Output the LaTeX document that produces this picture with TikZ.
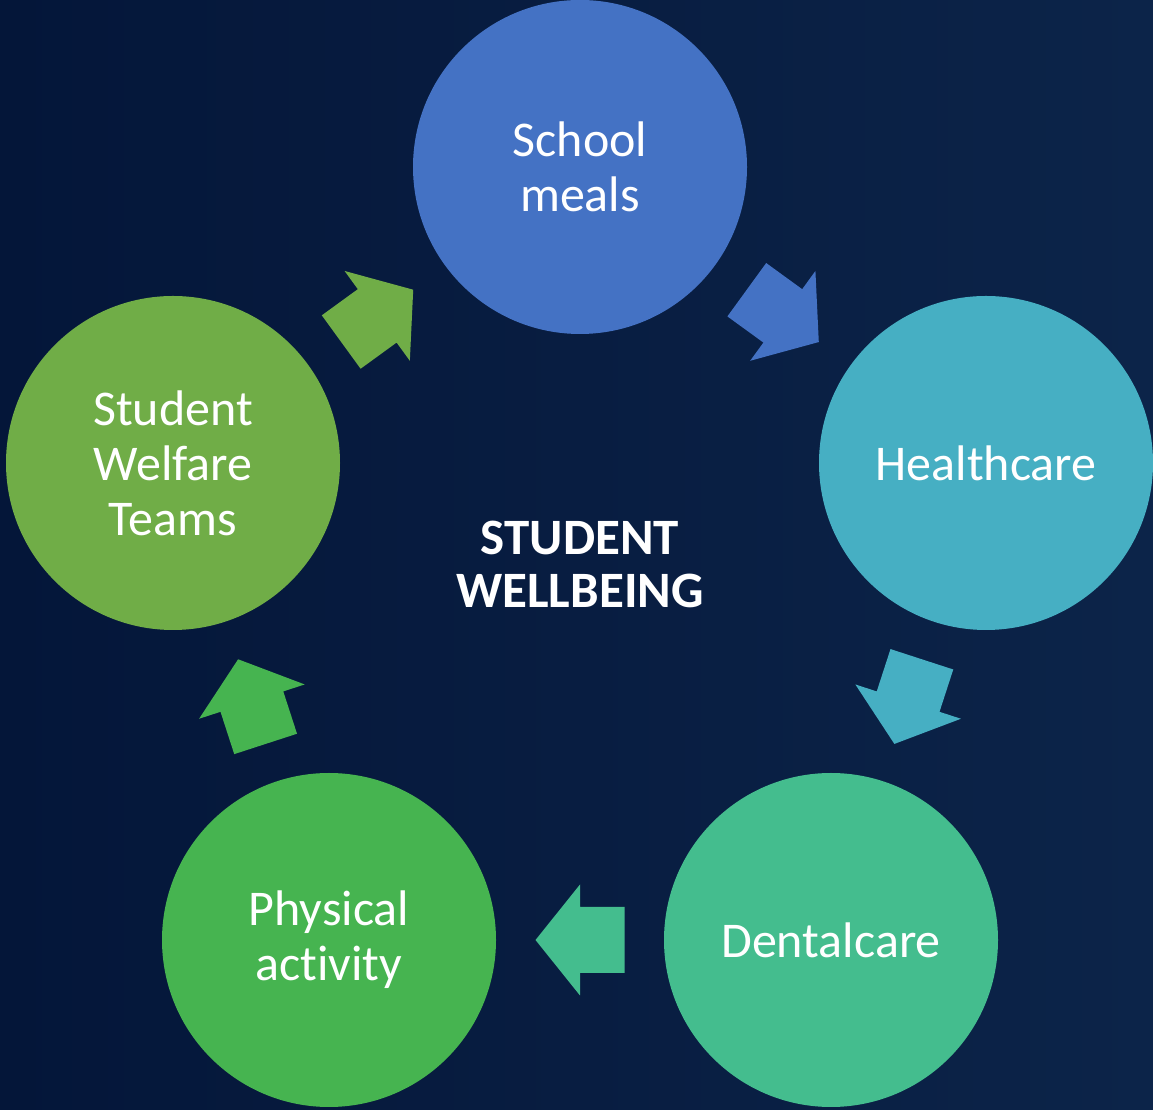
\documentclass[tikz,border=0pt]{standalone}
\usepackage{fontspec}
\setmainfont[Ligatures=NoCommon]{Carlito}
\definecolor{bgL}{RGB}{4,22,57}
\definecolor{bgR}{RGB}{12,36,73}
\definecolor{c1}{HTML}{4472C4}
\definecolor{c2}{HTML}{46AFC3}
\definecolor{c3}{HTML}{44BD8E}
\definecolor{c4}{HTML}{46B450}
\definecolor{c5}{HTML}{70AD47}
\tikzset{
  circ/.style={circle, minimum size=334pt, inner sep=0pt, text=white,
    font=\fontsize{50}{55}\selectfont, align=center},
  title/.style={text=white, font=\bfseries\fontsize{51}{53}\selectfont, align=center}
}
\begin{document}
\begin{tikzpicture}[x=1pt,y=1pt]
\path[left color=bgL, right color=bgR] (0,0) rectangle (1153,1110);
\useasboundingbox (0,0) rectangle (1153,1110);
\node[circ, fill=c1] (sm) at (580,943) {School\\meals};
\node[circ, fill=c2] (hc) at (986,647) {Healthcare};
\node[circ, fill=c3] (dc) at (831,170) {Dentalcare};
\node[circ, fill=c4] (pa) at (329,170) {Physical\\activity};
\node[circ, fill=c5] (swt) at (173,647) {Student\\Welfare\\Teams};
\node[title] (ttl) at (580,546) {STUDENT\\WELLBEING};
\begin{scope}[shift={(580,515)}]
\foreach \a/\c [count=\i] in {54/c1,-18/c2,-90/c3,-162/c4,126/c5}{
  \coordinate (arr\i) at (\a:345);
  \fill[\c, shift={(arr\i)}, rotate=\a-90]
    (-44.5,-33) -- (0,-33) -- (0,-55.5) -- (44.5,0) -- (0,55.5) -- (0,33) -- (-44.5,33) -- cycle;
}
\end{scope}
\end{tikzpicture}
\end{document}
